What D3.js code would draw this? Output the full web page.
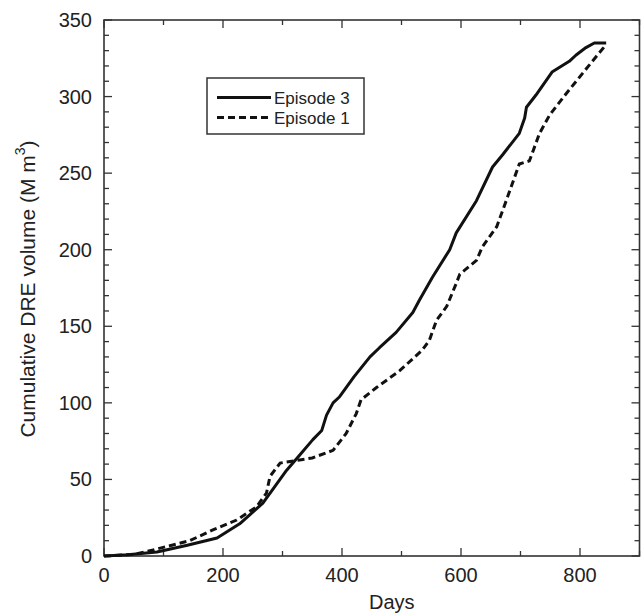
<!DOCTYPE html>
<html>
<head>
<meta charset="utf-8">
<script src="https://cdn.jsdelivr.net/npm/d3@7"></script>
<style>
  html, body { margin: 0; padding: 0; background: #fff; }
  svg { display: block; font-family: "Liberation Sans", Arial, sans-serif; }
</style>
</head>
<body>
<svg id="chart" width="641" height="614"></svg>
<script>
// ---- Data ----
const ep3Days = [0, 40, 89, 140, 190, 228, 267, 307, 329, 351, 366, 374, 385, 396, 420, 447, 463, 491, 519, 530, 552, 581, 592, 626, 653, 670, 698, 707, 710, 726, 753, 782, 793, 810, 824, 844];
const ep3Vol  = [0, 0.8, 2.6, 7, 11.8, 21, 34.5, 56, 66, 76, 82, 92, 100, 104, 117, 130, 136, 146, 159, 167, 182, 200, 211, 232, 254, 262, 276, 286, 293, 301, 316, 323, 327, 332, 335, 335];
const ep1Days = [0, 50, 83, 144, 183, 223, 256, 273, 279, 296, 329, 350, 385, 407, 424, 432, 458, 497, 535, 547, 559, 576, 592, 598, 626, 636, 660, 676, 698, 715, 732, 749, 777, 804, 827, 844];
const ep1Vol  = [0, 1, 4, 10, 17, 23.5, 32, 41, 52, 60.7, 62.7, 64, 69, 80, 93, 102, 110, 121, 134.5, 141, 154, 163, 178, 184, 193, 202, 215, 232, 256, 258, 276, 288, 302, 315, 326, 334];
const seriesNames = ["Episode 3", "Episode 1"];
const xMajorTicks = [0, 200, 400, 600, 800];
const yMajorTicks = [0, 50, 100, 150, 200, 250, 300, 350];
const xDomain = [0, 900];
const yDomain = [0, 350];

// ---- Layout ----
const svg = d3.select("#chart");
const L = 104, R = 639.5, T = 20, B = 556;
const x = d3.scaleLinear().domain(xDomain).range([L, R]);
const y = d3.scaleLinear().domain(yDomain).range([B, T]);
const axisColor = "#333";

// minor ticks
const xMinor = d3.range(xDomain[0], xDomain[1] + 1, 100);
const yMinor = d3.range(yDomain[0], yDomain[1] + 1, 10);
const g = svg.append("g");

function tickLines(vals, isX, len) {
  vals.forEach(v => {
    if (isX) {
      const px = x(v);
      g.append("line").attr("x1", px).attr("x2", px).attr("y1", B).attr("y2", B - len)
        .attr("stroke", axisColor).attr("stroke-width", 1.3);
      g.append("line").attr("x1", px).attr("x2", px).attr("y1", T).attr("y2", T + len)
        .attr("stroke", axisColor).attr("stroke-width", 1.3);
    } else {
      const py = y(v);
      g.append("line").attr("x1", L).attr("x2", L + len).attr("y1", py).attr("y2", py)
        .attr("stroke", axisColor).attr("stroke-width", 1.3);
      g.append("line").attr("x1", R).attr("x2", R - len).attr("y1", py).attr("y2", py)
        .attr("stroke", axisColor).attr("stroke-width", 1.3);
    }
  });
}
tickLines(xMinor.filter(v => !xMajorTicks.includes(v)), true, 5);
tickLines(xMajorTicks, true, 8);
tickLines(yMinor.filter(v => !yMajorTicks.includes(v)), false, 5);
tickLines(yMajorTicks, false, 8);

// frame
g.append("rect").attr("x", L).attr("y", T).attr("width", R - L).attr("height", B - T)
  .attr("fill", "none").attr("stroke", axisColor).attr("stroke-width", 1.6);

// tick labels
g.selectAll(".xl").data(xMajorTicks).enter().append("text")
  .attr("x", d => x(d)).attr("y", 582).attr("text-anchor", "middle")
  .attr("font-size", 20).attr("fill", "#222").text(d => d);
g.selectAll(".yl").data(yMajorTicks).enter().append("text")
  .attr("x", 92).attr("y", d => y(d) + 7).attr("text-anchor", "end")
  .attr("font-size", 20).attr("fill", "#222").text(d => d);

// axis titles
svg.append("text").attr("x", (L + R) / 2 + 20).attr("y", 609).attr("text-anchor", "middle")
  .attr("font-size", 20).attr("fill", "#222").text("Days");
const yt = svg.append("text").attr("transform", "translate(35," + 289 + ") rotate(-90)")
  .attr("text-anchor", "middle").attr("font-size", 21).attr("fill", "#222");
yt.append("tspan").text("Cumulative DRE volume (M m");
yt.append("tspan").attr("dy", -10).attr("font-size", 14).text("3");
yt.append("tspan").attr("dy", 10).text(")");

// lines
const line = d3.line().x(d => x(d[0])).y(d => y(d[1]));
const ep3 = ep3Days.map((d, i) => [d, ep3Vol[i]]);
const ep1 = ep1Days.map((d, i) => [d, ep1Vol[i]]);
svg.append("path").datum(ep1).attr("d", line).attr("fill", "none")
  .attr("stroke", "#111").attr("stroke-width", 3).attr("stroke-dasharray", "7,4");
svg.append("path").datum(ep3).attr("d", line).attr("fill", "none")
  .attr("stroke", "#111").attr("stroke-width", 3).attr("stroke-linejoin", "round");

// legend
const lg = svg.append("g");
lg.append("rect").attr("x", 207).attr("y", 78).attr("width", 157).attr("height", 56)
  .attr("fill", "#fff").attr("stroke", axisColor).attr("stroke-width", 1.5);
const dashes = [null, "7,4"];
seriesNames.forEach((name, i) => {
  const yy = 97.5 + i * 20;
  lg.append("line").attr("x1", 217).attr("x2", 271).attr("y1", yy).attr("y2", yy)
    .attr("stroke", "#111").attr("stroke-width", 3)
    .attr("stroke-dasharray", dashes[i]);
  lg.append("text").attr("x", 274).attr("y", yy + 6).attr("font-size", 17)
    .attr("fill", "#222").text(name);
});
</script>
</body>
</html>
